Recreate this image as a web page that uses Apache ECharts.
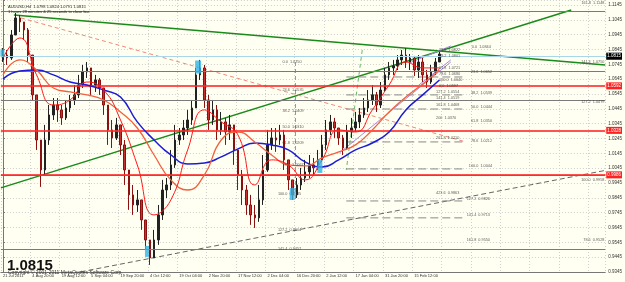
<!DOCTYPE html>
<html>
<head>
<meta charset="utf-8">
<script src="https://cdn.jsdelivr.net/npm/echarts@6/dist/echarts.min.js"></script>
<style>
  html, body { margin: 0; padding: 0; background: #fffff2; }
  #chart { width: 625px; height: 282px; }
</style>
</head>
<body>
<div id="chart"></div>
<script>
// x axis: one label every 7 slots, future space left empty (chart shift)
const slotCount = 144;
const tickLabels = ['21 Jul 2011', '4 Aug 20:00', '19 Aug 12:00', '5 Sep 04:00', '19 Sep 20:00',
  '4 Oct 12:00', '19 Oct 04:00', '2 Nov 20:00', '17 Nov 12:00', '2 Dec 04:00',
  '16 Dec 20:00', '2 Jan 12:00', '17 Jan 04:00', '31 Jan 20:00', '15 Feb 12:00'];

// AUDUSD H4, sampled candles
const firstOpen = 1.0775;
const closes = [1.0808,1.0788,1.0943,1.1058,1.1031,1.0977,1.0808,1.0539,1.0235,1.0033,
  1.0235,1.0404,1.0471,1.0438,1.0384,1.0451,1.0505,1.0539,1.0606,1.0694,
  1.0721,1.0606,1.0640,1.0586,1.0471,1.0303,1.0249,1.0337,1.0202,1.0033,
  0.9865,0.9797,0.9831,0.9696,0.9561,0.9440,0.9561,0.9730,0.9898,0.9932,
  1.0067,1.0235,1.0269,1.0316,1.0370,1.0451,1.0674,1.0721,1.0505,1.0370,
  1.0438,1.0303,1.0357,1.0289,1.0337,1.0168,1.0000,0.9898,0.9797,0.9730,
  0.9710,0.9831,1.0033,1.0202,1.0249,1.0235,1.0269,1.0101,0.9966,0.9865,
  0.9932,0.9979,1.0020,1.0067,1.0047,1.0101,1.0202,1.0303,1.0357,1.0316,
  1.0249,1.0181,1.0289,1.0316,1.0357,1.0404,1.0451,1.0505,1.0539,1.0471,
  1.0572,1.0674,1.0721,1.0734,1.0775,1.0808,1.0761,1.0788,1.0707,1.0761,
  1.0674,1.0626,1.0694,1.0761,1.0815];
const highs = [1.0855,1.0842,1.0977,1.1091,1.1078,1.1031,1.0990,1.0808,1.0539,1.0235,
  1.0337,1.0471,1.0518,1.0518,1.0471,1.0505,1.0539,1.0606,1.0674,1.0741,
  1.0761,1.0721,1.0674,1.0653,1.0586,1.0471,1.0370,1.0384,1.0337,1.0235,
  1.0033,0.9932,0.9898,0.9831,0.9696,0.9561,0.9629,0.9797,0.9966,0.9979,
  1.0168,1.0337,1.0316,1.0370,1.0438,1.0505,1.0721,1.0775,1.0741,1.0539,
  1.0505,1.0471,1.0424,1.0384,1.0404,1.0337,1.0168,1.0033,0.9932,0.9865,
  0.9797,0.9932,1.0134,1.0303,1.0316,1.0316,1.0337,1.0303,1.0101,0.9966,
  0.9979,1.0047,1.0101,1.0134,1.0114,1.0168,1.0269,1.0370,1.0404,1.0384,
  1.0316,1.0269,1.0337,1.0384,1.0424,1.0451,1.0518,1.0572,1.0606,1.0559,
  1.0626,1.0721,1.0761,1.0775,1.0808,1.0842,1.0855,1.0815,1.0802,1.0808,
  1.0788,1.0707,1.0741,1.0788,1.0829];
const lows = [1.0761,1.0741,1.0775,1.0943,1.0963,1.0909,1.0761,1.0505,1.0168,0.9919,
  1.0000,1.0202,1.0370,1.0357,1.0337,1.0370,1.0424,1.0471,1.0518,1.0586,
  1.0653,1.0539,1.0559,1.0539,1.0404,1.0202,1.0181,1.0235,1.0134,0.9932,
  0.9764,0.9730,0.9750,0.9629,0.9494,0.9393,0.9440,0.9528,0.9696,0.9844,
  0.9898,1.0047,1.0202,1.0235,1.0269,1.0337,1.0451,1.0640,1.0451,1.0303,
  1.0337,1.0235,1.0269,1.0202,1.0235,1.0067,0.9898,0.9797,0.9730,0.9663,
  0.9642,0.9683,0.9797,1.0020,1.0168,1.0155,1.0202,1.0033,0.9898,0.9831,
  0.9844,0.9898,0.9952,0.9979,1.0000,1.0033,1.0087,1.0168,1.0269,1.0249,
  1.0202,1.0134,1.0168,1.0249,1.0289,1.0316,1.0384,1.0424,1.0471,1.0424,
  1.0451,1.0559,1.0640,1.0674,1.0707,1.0741,1.0721,1.0707,1.0667,1.0653,
  1.0626,1.0586,1.0613,1.0674,1.0761];

// moving averages, one reading every 4 candles
const maStep = 4;
const maSlow = [1.0647,1.0700,1.0707,1.0674,1.0626,1.0606,1.0572,1.0525,1.0357,1.0235,
  1.0134,1.0074,1.0080,1.0121,1.0175,1.0215,1.0202,1.0168,1.0087,1.0053,
  1.0101,1.0168,1.0215,1.0289,1.0438,1.0539,1.0640];
const maMid = [1.0674,1.0775,1.0707,1.0586,1.0559,1.0539,1.0505,1.0424,1.0316,1.0134,
  0.9966,0.9898,1.0000,1.0235,1.0289,1.0222,1.0134,1.0067,1.0060,1.0114,
  1.0155,1.0202,1.0303,1.0424,1.0525,1.0613,1.0707];
const maFast = [1.0788,1.0923,1.0674,1.0471,1.0505,1.0626,1.0572,1.0370,1.0067,0.9730,
  0.9831,1.0168,1.0438,1.0357,1.0269,0.9932,1.0101,1.0067,0.9966,1.0101,
  1.0303,1.0289,1.0438,1.0606,1.0761,1.0721,1.0721];

// drawn objects: [slot, price] end points
const greenDown = [[2.6, 1.1078], [143.5, 1.0741]];
const greenUp = [[-0.5, 0.9912], [135.4, 1.1112]];
const redDash = [[4.3, 1.1058], [110.3, 1.0222]];
const greyDashUp = [[18.5, 0.9346], [143.5, 1.0030]];
const violetLines = [
  [[80.2, 1.0148], [106.7, 1.0761]],
  [[96.8, 1.0754], [106.7, 1.0869]],
  [[99.1, 1.0606], [106.7, 1.0775]]
];
const greenDashed = [
  [[69.7, 1.0761], [69.7, 0.9831]],
  [[85.6, 1.0842], [81.8, 1.0033]]
];
const fibSegStart = 81.8, fibSegEnd = 109.8;
const fibSegLevels = [1.0660, 1.0539, 1.0444, 1.0222, 1.0040, 0.9824, 0.9710];

// horizontal levels
const greyLevels = [1.1148, 1.0747, 1.0477, 0.9958, 0.9550];
const redLevels = [1.0592, 1.0328, 0.9986];
const blueLevel = 1.0841;
const lastPrice = 1.0815;

// fibonacci texts
const fibTexts = ['0.0  1.0750', '23.6  1.0535', '38.2  1.0409', '50.0  1.0310', '61.8  1.0209',
  '78.6  1.0067', '100.0  0.9885', '127.2  0.9614', '141.4  0.9457',
  '0.0  1.0844', '23.6  1.0652', '38.2  1.0539', '50.0  1.0444', '61.8  1.0350', '78.6  1.0212',
  '100.0  1.0044', '127.2  0.9826', '141.4  0.9713', '161.8  0.9550', '423.6  0.9863',
  '127.2  1.0554', '141.4  1.0519', '161.8  1.0468', '200  1.0370', '261.8  1.0210',
  '23.6  1.0822', '38.2  1.0801', '61.8  1.0721', '78.6  1.0680', '100.0  1.0640', '0.0  1.0597'];
const fibSlots = [66.6, 66.6, 66.6, 66.6, 66.6, 66.6, 65.5, 65.5, 65.5,
  111.7, 111.5, 111.5, 111.5, 111.5, 111.5, 111.0, 110.5, 110.5, 110.5, 103.2,
  103.2, 103.2, 103.2, 103.2, 103.2,
  103.9, 103.9, 103.9, 103.9, 103.9, 103.9];
const fibPrices = [1.0761, 1.0572, 1.0431, 1.0323, 1.0215, 1.0067, 0.9871, 0.9629, 0.9501,
  1.0862, 1.0694, 1.0552, 1.0458, 1.0363, 1.0229, 1.0060, 0.9838, 0.9730, 0.9561, 0.9878,
  1.0559, 1.0518, 1.0471, 1.0384, 1.0249,
  1.0842, 1.0802, 1.0721, 1.0680, 1.0640, 1.0599];
const edgeTexts = ['161.8  1.1148', '141.4  1.0750', '127.2  1.0479', '100.0  0.9958', '78.6  0.9528'];
const edgePrices = [1.1159, 1.0761, 1.0492, 0.9966, 0.9561];

// cyan markers
const boxSlots = [-0.14, 46.5, 34.3, 68.9, 75.5];
const boxPrices = [1.0822, 1.0727, 0.9484, 0.9871, 1.0057];
const boxSizes = [[4, 7], [6, 13], [4, 11], [5, 12], [5, 13]];

const categories = [];
for (let i = 0; i < slotCount; i++) {
  categories.push(i % 7 === 0 && tickLabels[i / 7] ? tickLabels[i / 7] : '');
}
const candles = closes.map((c, i) => {
  const o = i === 0 ? firstOpen : closes[i - 1];
  return [o, c, Math.min(lows[i], o, c), Math.max(highs[i], o, c)];
});
const maPairs = arr => arr.map((v, i) => [i * maStep, v]);

const chart = echarts.init(document.getElementById('chart'));
const small = { fontFamily: 'Liberation Sans', fontSize: 4, color: '#333' };

function seg(data, color, width, type) {
  return {
    type: 'line', xAxisIndex: 1, data: data, showSymbol: false, silent: true,
    lineStyle: { color: color, width: width, type: type || 'solid' }, z: 3
  };
}

const hLines = [];
greyLevels.forEach(v => hLines.push({ yAxis: v, lineStyle: { color: '#7a7a7a', width: 1, type: 'solid' }, label: { show: false } }));
redLevels.forEach(v => hLines.push({
  yAxis: v, lineStyle: { color: 'rgba(255,40,40,0.8)', width: 2, type: 'solid' },
  label: { show: true, position: 'end', formatter: v.toFixed(4), backgroundColor: '#ff2020', color: '#fff', padding: [1, 1], distance: 1, fontSize: 4.5, fontFamily: 'Liberation Sans' }
}));
hLines.push({
  yAxis: blueLevel, lineStyle: { color: '#a9d6e8', width: 1.2, type: 'solid' },
  label: { show: true, position: 'end', formatter: blueLevel.toFixed(4), backgroundColor: '#a9d6e8', color: '#fff', padding: [1, 1], distance: 1, fontSize: 4.5, fontFamily: 'Liberation Sans' }
});
hLines.push({
  yAxis: lastPrice, lineStyle: { color: 'rgba(0,0,0,0)', width: 1 },
  label: { show: true, position: 'end', formatter: lastPrice.toFixed(4), backgroundColor: '#000', color: '#fff', padding: [1, 1], distance: 1, fontSize: 4.5, fontFamily: 'Liberation Sans' }
});

const series = [
  {
    type: 'candlestick', name: 'AUDUSD,H4', data: candles, barWidth: 2, z: 4,
    itemStyle: { color: '#222', color0: '#c83030', borderColor: '#222', borderColor0: '#8c1010', borderWidth: 1 },
    markLine: { symbol: 'none', silent: true, animation: false, data: hLines }
  },
  { type: 'line', xAxisIndex: 1, data: maPairs(maSlow), smooth: true, showSymbol: false, lineStyle: { color: '#1c1cd8', width: 1.5 }, z: 5 },
  { type: 'line', xAxisIndex: 1, data: maPairs(maMid), smooth: true, showSymbol: false, lineStyle: { color: '#f2603e', width: 1.3 }, z: 5 },
  { type: 'line', xAxisIndex: 1, data: maPairs(maFast), smooth: true, showSymbol: false, lineStyle: { color: '#ff1a1a', width: 1 }, z: 5 },
  seg(greenDown, '#1a8a1a', 1.5),
  seg(greenUp, '#1a8a1a', 1.5),
  seg(redDash, '#f08a78', 1, [4, 3]),
  seg(greyDashUp, '#666', 1, [5, 3])
];
violetLines.forEach(l => series.push(seg(l, '#a68ae0', 1)));
greenDashed.forEach(l => series.push(seg(l, '#6db86d', 1, [4, 3])));
fibSegLevels.forEach(v => series.push(seg([[fibSegStart, v], [fibSegEnd, v]], '#8a8a8a', 1, [8, 4])));

series.push({
  type: 'scatter', xAxisIndex: 1, symbolSize: 0, silent: true, z: 6,
  data: fibTexts.map((t, i) => ({ name: t, value: [fibSlots[i], fibPrices[i]] })),
  label: Object.assign({ show: true, position: 'right', distance: 0, formatter: '{b}' }, small, { fontSize: 3.8 })
});
series.push({
  type: 'scatter', xAxisIndex: 1, symbolSize: 0, silent: true, z: 6,
  data: edgeTexts.map((t, i) => ({ name: t, value: [143.3, edgePrices[i]] })),
  label: Object.assign({ show: true, position: 'left', distance: 0, formatter: '{b}' }, small, { fontSize: 3.8 })
});
series.push({
  type: 'scatter', xAxisIndex: 1, symbol: 'rect', silent: true, z: 7,
  data: boxSlots.map((s, i) => ({ value: [s, boxPrices[i]], symbolSize: boxSizes[i] })),
  itemStyle: { color: '#2fb4e6' }
});

chart.setOption({
  animation: false,
  backgroundColor: '#fffff2',
  textStyle: { fontFamily: 'Liberation Sans' },
  title: [
    { text: 'AUDUSD,H4  1.0798 1.0824 1.0791 1.0815', left: 3, top: 0, textStyle: { fontSize: 4, fontWeight: 'normal', color: '#222' } },
    { text: '1 hours 28 minutes & 25 seconds to close bar', left: 3, top: 5, textStyle: { fontSize: 4, fontWeight: 'normal', color: '#222' } },
    { text: '1.0815', left: 2, top: 253, textStyle: { fontSize: 15, fontWeight: 'bold', color: '#111', fontFamily: 'Liberation Sans' } },
    { text: 'Copyright \u00a9 2001-2011 MetaQuotes Software Corp.', left: 3, top: 265, textStyle: { fontSize: 5, fontWeight: 'normal', color: '#333' } }
  ],
  grid: { left: 0, right: 18, top: 0, bottom: 10, containLabel: false },
  xAxis: [
    {
      type: 'category', data: categories, boundaryGap: true,
      axisLine: { lineStyle: { color: '#777' } },
      axisTick: { interval: 6, length: 2, lineStyle: { color: '#777' } },
      axisLabel: Object.assign({ interval: 6, align: 'left', margin: 2 }, small),
      splitLine: { show: true, interval: 6, lineStyle: { color: '#cfcfcf', type: [1, 2] } }
    },
    { type: 'value', min: -0.5, max: slotCount - 0.5, show: false }
  ],
  yAxis: {
    type: 'value', position: 'right', min: 0.9345, max: 1.1179, interval: 0.01,
    axisLine: { show: true, lineStyle: { color: '#777' } },
    axisTick: { show: true, length: 2, lineStyle: { color: '#777' } },
    axisLabel: Object.assign({ margin: 3, formatter: v => (v > 1.116 ? '' : v.toFixed(4)) }, small, { fontSize: 4.5 }),
    splitLine: { show: true, lineStyle: { color: '#cfcfcf', type: [1, 2] } }
  },
  series: series
});
</script>
</body>
</html>
